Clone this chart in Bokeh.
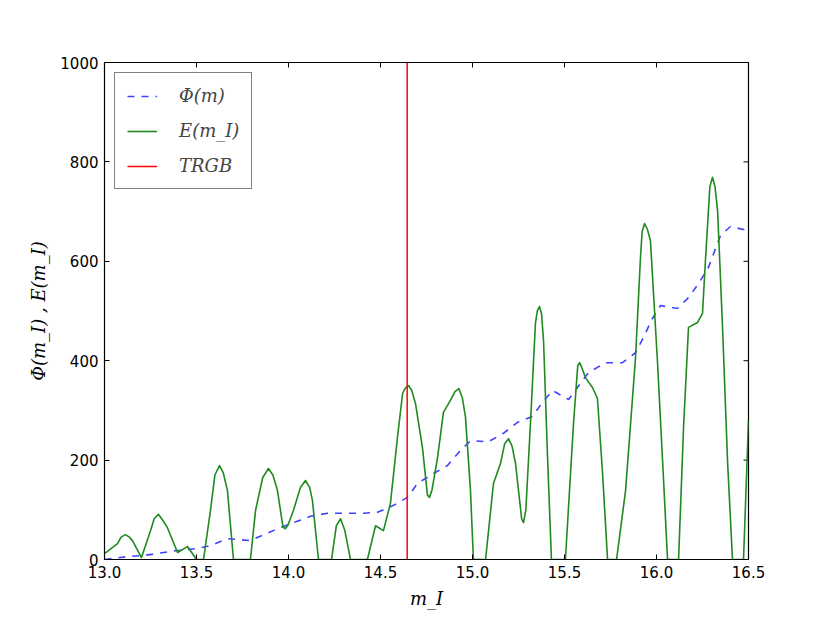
import math
from bokeh.plotting import figure
from bokeh.models import Range1d, FixedTicker, NumeralTickFormatter
from bokeh.embed import file_html
from bokeh.resources import INLINE

# ---- data ----
phi_m = [13.0, 13.13, 13.212, 13.321, 13.397, 13.505, 13.576, 13.668, 13.793, 13.94,
         14.12, 14.212, 14.408, 14.484, 14.571, 14.647, 14.701, 14.788, 14.864, 14.924,
         14.989, 15.087, 15.168, 15.245, 15.326, 15.38, 15.435, 15.522, 15.63, 15.723,
         15.815, 15.886, 15.929, 15.978, 16.022, 16.114, 16.174, 16.228, 16.283, 16.321,
         16.348, 16.402, 16.495]
phi_val = [0, 6, 8, 14, 18, 22, 28, 42, 38, 62,
           87, 93, 93, 95, 109, 125, 153, 173, 189, 215,
           239, 237, 254, 276, 288, 316, 340, 322, 376, 396,
           396, 416, 447, 485, 511, 505, 527, 555, 588, 626,
           652, 670, 662]

e_m = [13.0, 13.071, 13.09, 13.114, 13.135, 13.152, 13.201, 13.25, 13.27, 13.293,
       13.315, 13.342, 13.397, 13.451, 13.5, 13.538, 13.576, 13.60, 13.625, 13.645,
       13.668, 13.701, 13.793, 13.821, 13.86, 13.891, 13.915, 13.94, 13.97, 13.984,
       13.998, 14.027, 14.065, 14.092, 14.115, 14.13, 14.163, 14.234, 14.26, 14.283,
       14.305, 14.337, 14.429, 14.473, 14.516, 14.554, 14.592, 14.62, 14.635, 14.652,
       14.67, 14.69, 14.728, 14.755, 14.766, 14.78, 14.81, 14.842, 14.88, 14.905,
       14.926, 14.945, 14.962, 14.989, 15.005, 15.071, 15.114, 15.152, 15.175, 15.196,
       15.215, 15.234, 15.267, 15.277, 15.29, 15.315, 15.342, 15.352, 15.364, 15.375,
       15.386, 15.408, 15.429, 15.505, 15.549, 15.572, 15.582, 15.595, 15.614, 15.652,
       15.679, 15.707, 15.734, 15.783, 15.832, 15.886, 15.913, 15.922, 15.935, 15.95,
       15.967, 16.005, 16.033, 16.06, 16.12, 16.147, 16.174, 16.223, 16.25, 16.266,
       16.29, 16.304, 16.318, 16.332, 16.359, 16.386, 16.413, 16.473, 16.5]
e_val = [12, 32, 45, 50, 45, 38, 4, 58, 82, 91,
         80, 64, 14, 26, 0, 0, 99, 170, 189, 175,
         139, 0, 0, 99, 165, 183, 170, 139, 65, 62,
         70, 99, 145, 159, 145, 119, 0, 0, 68, 82,
         60, 0, 0, 68, 58, 113, 245, 334, 345, 350,
         340, 314, 225, 130, 125, 140, 205, 296, 320, 338,
         344, 325, 286, 139, 0, 0, 153, 193, 233, 243,
         228, 193, 82, 74, 100, 274, 475, 500, 509, 495,
         441, 205, 0, 0, 274, 390, 396, 385, 366, 346,
         324, 173, 0, 0, 139, 406, 608, 660, 676, 665,
         642, 400, 199, 0, 0, 266, 467, 477, 495, 602,
         750, 769, 750, 702, 467, 199, 0, 0, 280]

trgb_mag = 14.645

x_ticks = [13.0, 13.5, 14.0, 14.5, 15.0, 15.5, 16.0, 16.5]
y_ticks = [0, 200, 400, 600, 800, 1000]

labels = ["Φ(m)", "E(m_I)", "TRGB"]
x_label = "m_I"
y_label = "Φ(m_I) , E(m_I)"

# ---- figure ----
p = figure(width=822, height=614,
           x_range=Range1d(x_ticks[0], x_ticks[-1]),
           y_range=Range1d(y_ticks[0], y_ticks[-1]),
           output_backend="svg", toolbar_location=None,
           min_border_left=104, min_border_right=74,
           min_border_top=62, min_border_bottom=55)
p.grid.visible = False
p.outline_line_color = "black"
p.outline_line_width = 1.2
p.background_fill_color = "white"
p.border_fill_color = "white"

tick_font = "DejaVu Sans"
for ax, ticks in ((p.xaxis[0], x_ticks), (p.yaxis[0], y_ticks)):
    ax.ticker = FixedTicker(ticks=ticks)
    ax.minor_tick_line_color = None
    ax.major_tick_in = 5
    ax.major_tick_out = 0
    ax.major_tick_line_color = "black"
    ax.axis_line_color = "black"
    ax.major_label_text_font = tick_font
    ax.major_label_text_font_size = "15px"
    ax.major_label_text_color = "black"
    ax.major_label_standoff = 6
    ax.axis_label_text_font = "DejaVu Serif"
    ax.axis_label_text_font_style = "italic"
    ax.axis_label_text_font_size = "18px"
    ax.axis_label_text_color = "black"

p.xaxis[0].formatter = NumeralTickFormatter(format="0.0")
p.xaxis[0].axis_label = x_label
p.xaxis[0].axis_label_standoff = 7
p.yaxis[0].axis_label = y_label
p.yaxis[0].axis_label_standoff = 8

# inward tick marks on the top and right edges (screen-length rays)
p.ray(x=x_ticks, y=[y_ticks[-1]] * len(x_ticks), length=5, length_units="screen",
      angle=-math.pi / 2, line_color="black", line_width=1)
p.ray(x=[x_ticks[-1]] * len(y_ticks), y=y_ticks, length=5, length_units="screen",
      angle=math.pi, line_color="black", line_width=1)

# ---- glyphs ----
p.line(phi_m, phi_val, line_color="#0000ff", line_alpha=0.75, line_width=1.6,
       line_dash="7 7", legend_label=labels[0])
p.line(e_m, e_val, line_color="#1f8a1f", line_width=1.6, line_join="round",
       legend_label=labels[1])
p.line([trgb_mag, trgb_mag], [y_ticks[0], y_ticks[-1]], line_color="#ff0000",
       line_width=1.5, legend_label=labels[2])

lg = p.legend[0]
lg.location = "top_left"
lg.margin = 10
lg.padding = 12
lg.spacing = 14
lg.glyph_width = 30
lg.glyph_height = 20
lg.label_standoff = 22
lg.label_text_font = "DejaVu Serif"
lg.label_text_font_style = "italic"
lg.label_text_font_size = "18px"
lg.border_line_color = "black"
lg.border_line_width = 1.2
lg.background_fill_color = "white"
lg.background_fill_alpha = 1.0

open("out.html", "w").write(file_html(p, INLINE))
